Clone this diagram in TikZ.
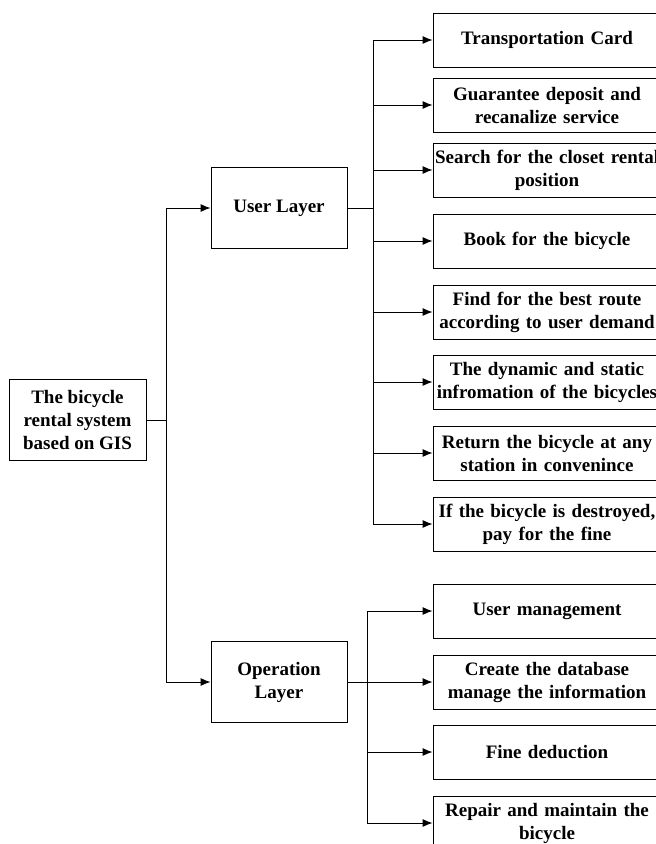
\documentclass[tikz,border=0pt]{standalone}
\usepackage{fontspec}
\setmainfont{Liberation Serif}
\usetikzlibrary{arrows.meta}
\tikzset{box/.style={draw,fill=white,align=center,font=\fontsize{19}{23}\selectfont\bfseries,inner sep=1pt},
  layer/.style={box,minimum width=136pt,minimum height=81pt},
  leaf/.style={box,minimum width=228pt,minimum height=54pt,text width=224pt},
  arr/.style={-{Latex[length=10pt,width=8pt]}}}

\begin{document}
\begin{tikzpicture}[x=1pt,y=-1pt,line width=0.9pt]
  \useasboundingbox (0,0) rectangle (656,844);
  \clip (0,0) rectangle (656,844);
  % root and layers
  \node[layer,minimum width=137pt] (root) at (77.5,420) {The bicycle\\rental system\\based on GIS};
  \node[layer] (user) at (279,208) {User Layer};
  \node[layer] (oper) at (279,682) {Operation\\Layer};
  \coordinate (rj) at (166,420);
  \draw (root) -- (rj);
  \draw[arr] (rj) |- (user);
  \draw[arr] (rj) |- (oper);
  % user layer
  \node[leaf] (u1) at (547,40)  {Transportation Card};
  \node[leaf] (u2) at (547,105) {Guarantee deposit and\\recanalize service};
  \node[leaf] (u3) at (547,170) {\mbox{Search for the closet rental}\\position};
  \node[leaf] (u4) at (547,241) {Book for the bicycle};
  \node[leaf] (u5) at (547,312) {Find for the best route\\according to user demand};
  \node[leaf] (u6) at (547,382) {The dynamic and static\\\mbox{infromation of the bicycles}};
  \node[leaf] (u7) at (547,453) {Return the bicycle at any\\station in convenince};
  \node[leaf] (u8) at (547,524) {\mbox{If the bicycle is destroyed,}\\pay for the fine};
  \coordinate (uj) at (373,208);
  \draw (user) -- (uj);
  \foreach \n in {u1,u2,u3,u4,u5,u6,u7,u8}
    \draw[arr] (uj) |- (\n);
  % operation layer
  \node[leaf] (o1) at (547,611) {User management};
  \node[leaf] (o2) at (547,682) {Create the database\\manage the information};
  \node[leaf] (o3) at (547,752) {Fine deduction};
  \node[leaf] (o4) at (547,823) {Repair and maintain the\\bicycle};
  \coordinate (oj) at (367,682);
  \draw (oper) -- (oj);
  \foreach \n in {o1,o2,o3,o4}
    \draw[arr] (oj) |- (\n);
\end{tikzpicture}
\end{document}
